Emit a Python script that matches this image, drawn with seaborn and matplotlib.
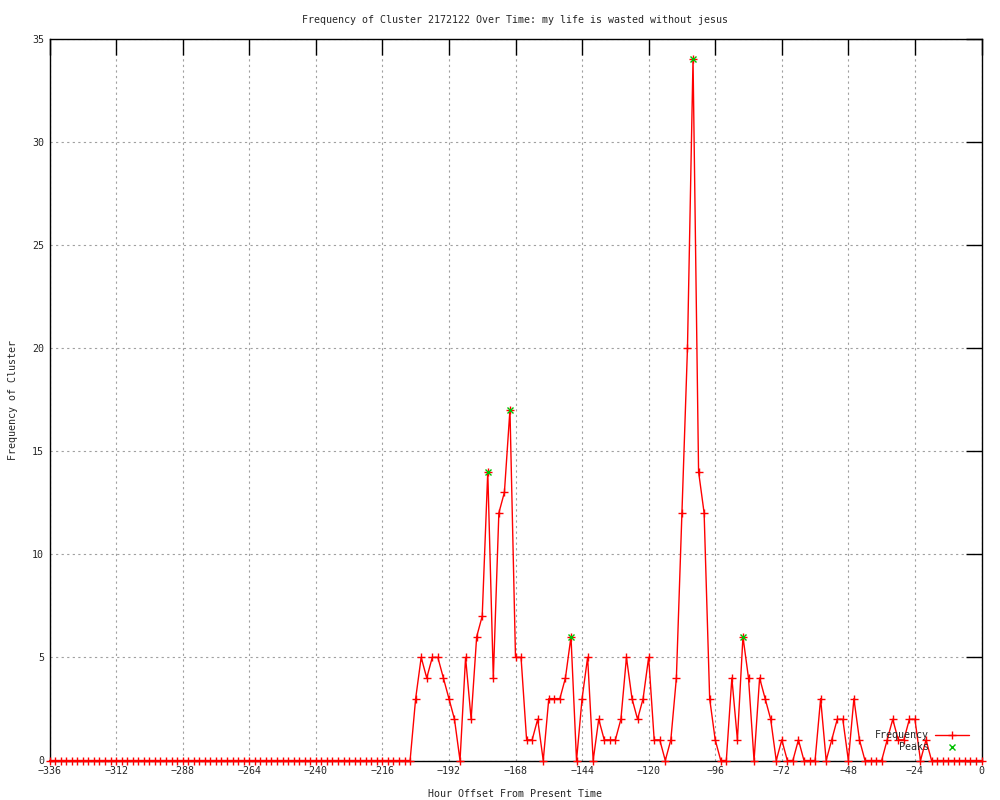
import numpy as np
import pandas as pd
import matplotlib
matplotlib.use("Agg")
import matplotlib.pyplot as plt
import seaborn as sns

# ---- data ----
hours = np.arange(-336, 1, 2)
freq = [
    0, 0, 0, 0, 0, 0, 0, 0, 0, 0, 0, 0, 0, 0, 0, 0, 0, 0, 0, 0, 0, 0,   # -336 .. -294
    0, 0, 0, 0, 0, 0, 0, 0, 0, 0, 0, 0, 0, 0, 0, 0, 0, 0, 0, 0, 0, 0,   # -292 .. -250
    0, 0, 0, 0, 0, 0, 0, 0, 0, 0, 0, 0, 0, 0, 0, 0, 0, 0, 0, 0, 0, 0,   # -248 .. -206
    3, 5, 4, 5, 5, 4, 3, 2, 0, 5, 2, 6, 7, 14, 4, 12, 13, 17,          # -204 .. -170
    5, 5, 1, 1, 2, 0, 3, 3, 3, 4, 6, 0, 3, 5, 0, 2, 1, 1, 1, 2,        # -168 .. -130
    5, 3, 2, 3, 5, 1, 1, 0, 1, 4, 12, 20, 34, 14, 12, 3, 1, 0, 0, 4,   # -128 .. -90
    1, 6, 4, 0, 4, 3, 2, 0, 1, 0, 0, 1, 0, 0, 0, 3, 0, 1, 2, 2,        # -88 .. -50
    0, 3, 1, 0, 0, 0, 0, 1, 2, 1, 1, 2, 2, 0, 1, 0, 0, 0, 0, 0,        # -48 .. -10
    0, 0, 0, 0, 0,                                                     # -8 .. 0
]
peak_hours = [-178, -170, -148, -104, -86]
peak_vals = [14, 17, 6, 34, 6]

x_ticks = list(range(-336, 1, 24))
y_ticks = [0, 5, 10, 15, 20, 25, 30, 35]

title = "Frequency of Cluster 2172122 Over Time: my life is wasted without jesus"
xlabel = "Hour Offset From Present Time"
ylabel = "Frequency of Cluster"

df = pd.DataFrame({"hour": hours, "freq": freq})
pk = pd.DataFrame({"hour": peak_hours, "freq": peak_vals})

sns.set_style("white")
plt.rcParams["font.family"] = ["DejaVu Sans Mono"]
FS = 7.2
plt.rcParams["font.size"] = FS

fig = plt.figure(figsize=(10, 8), dpi=100)
ax = fig.add_axes([0.0495, 0.049375, 0.932, 0.9025])

sns.lineplot(data=df, x="hour", y="freq", ax=ax, color="#ff0000", linewidth=1.0,
             marker="+", markersize=5.3, markeredgewidth=1.0, markeredgecolor="#ff0000",
             label="Frequency", clip_on=False, zorder=5)
ax.plot(pk["hour"], pk["freq"], linestyle="none", marker="x", color="#00c000",
        markersize=5, markeredgewidth=1.0, label="Peaks", zorder=6, clip_on=False)

ax.set_xlim(-336, 0)
ax.set_ylim(0, 35)
ax.set_xticks(x_ticks)
ax.set_yticks(y_ticks)
ax.grid(True, color="#a0a0a0", linestyle=(0, (2, 3)), linewidth=0.8)
ax.set_axisbelow(True)
for s in ax.spines.values():
    s.set_color("black")
    s.set_linewidth(1.0)
ax.tick_params(direction="in", length=11.5, width=1.0, top=True, right=True,
               color="black", labelsize=FS, pad=4)

ax.set_title(title, fontsize=FS, pad=11)
ax.set_xlabel(xlabel, fontsize=FS, labelpad=9)
ax.set_ylabel(ylabel, fontsize=FS, labelpad=10)

leg = ax.legend(loc="lower right", bbox_to_anchor=(0.995, 0.0), frameon=False,
                markerfirst=False, fontsize=FS, handlelength=3.4,
                labelspacing=0.25, borderpad=0.3, handletextpad=0.6)
for t in leg.get_texts():
    t.set_ha("right")

fig.savefig("out.png", dpi=100)
